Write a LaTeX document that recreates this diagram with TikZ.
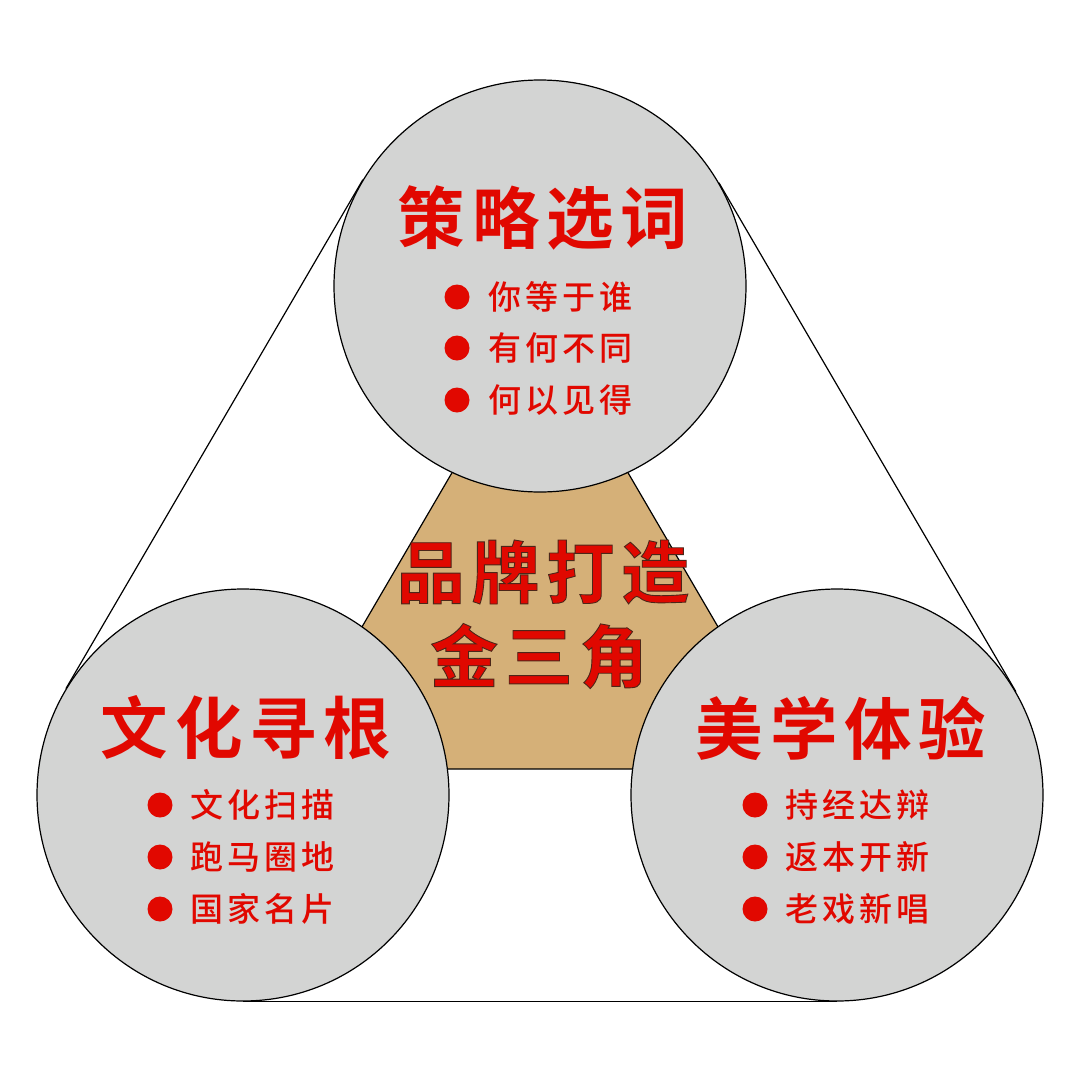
\documentclass[tikz,border=0pt]{standalone}
\usepackage{fontspec}
\newfontfamily\cjkreg{Noto Sans CJK SC}[UprightFont={* Medium}, LetterSpace=12]
\newfontfamily\cjkbold{Noto Sans CJK SC}[UprightFont={* Bold}, LetterSpace=10]
\newfontfamily\cjkout{Noto Sans CJK SC}[UprightFont={* Bold}, LetterSpace=10, FakeBold=1.3]
\definecolor{myred}{RGB}{225,8,0}
\definecolor{mygray}{RGB}{211,212,211}
\definecolor{mytan}{RGB}{213,176,120}
\newcommand\outlined[1]{\special{pdf:bc [0.88 0.03 0] [0.3 0.15 0.1]}#1\special{pdf:ec}}
\tikzset{
  bigcirc/.style={circle, draw=black, line width=1.2pt, fill=mygray, minimum size=412pt, inner sep=0pt},
  tanshape/.style={draw=black, line width=1.2pt, fill=mytan},
  hull/.style={draw=black, line width=1.2pt},
  title/.style={text=myred, font=\cjkbold\fontsize{67.5}{72}\selectfont, inner sep=0pt, anchor=center},
  centertext/.style={text=myred, font=\cjkout\fontsize{68}{72}\selectfont, inner sep=0pt, anchor=center},
  dot/.style={circle, fill=myred, minimum size=25pt, inner sep=0pt},
  item/.style={text=myred, font=\cjkreg\fontsize{33}{37}\selectfont, inner sep=0pt, anchor=west}
}
\begin{document}
\begin{tikzpicture}[x=1pt,y=-1pt]
\useasboundingbox (0,0) rectangle (1080,1080);
\fill[white] (0,0) rectangle (1080,1080);
% tan triangle
\coordinate (t1) at (540,322);
\coordinate (t2) at (279,769);
\coordinate (t3) at (801,769);
\draw[tanshape] (t1) -- (t2) -- (t3) -- cycle;
% circles
\node[bigcirc] (ctop) at (540,286) {};
\node[bigcirc] (cleft) at (243,795) {};
\node[bigcirc] (cright) at (837,795) {};
% hull lines
\draw[hull] (ctop.149.7) -- (cleft.149.7);
\draw[hull] (ctop.30.3) -- (cright.30.3);
\draw[hull] (cleft.270) -- (cright.270);
% center text
\node[centertext] (brand) at (543,572) {\outlined{品牌打造}};
\node[centertext] (gold) at (539,656) {\outlined{金三角}};
% top circle
\node[title] (ttop) at (543,218) {策略选词};
\node[dot] (d1) at (457,297) {};
\node[item] (i1) at (488,297) {你等于谁};
\node[dot] (d2) at (457,348) {};
\node[item] (i2) at (488,348) {有何不同};
\node[dot] (d3) at (457,400) {};
\node[item] (i3) at (488,400) {何以见得};
% left circle
\node[title] (tleft) at (246,728) {文化寻根};
\node[dot] (d4) at (160,805) {};
\node[item] (i4) at (190,805) {文化扫描};
\node[dot] (d5) at (160,857) {};
\node[item] (i5) at (190,857) {跑马圈地};
\node[dot] (d6) at (160,909) {};
\node[item] (i6) at (190,909) {国家名片};
% right circle
\node[title] (tright) at (841,728) {美学体验};
\node[dot] (d7) at (755,805) {};
\node[item] (i7) at (785,805) {持经达辩};
\node[dot] (d8) at (755,857) {};
\node[item] (i8) at (785,857) {返本开新};
\node[dot] (d9) at (755,909) {};
\node[item] (i9) at (785,909) {老戏新唱};
\end{tikzpicture}
\end{document}
